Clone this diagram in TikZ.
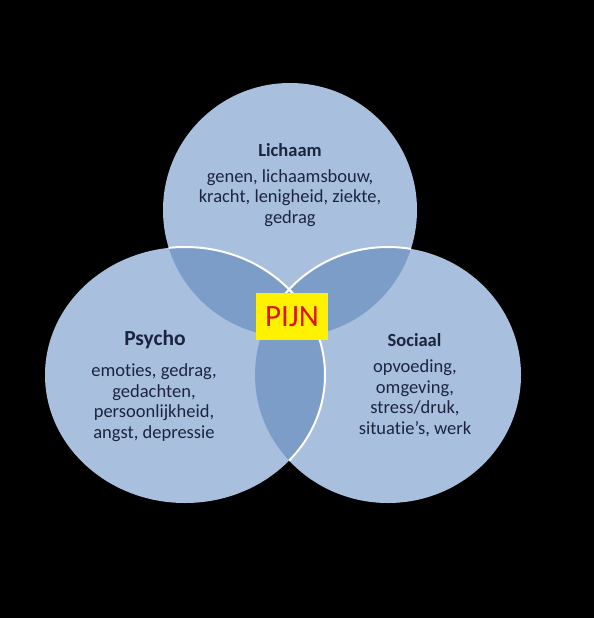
\documentclass[tikz,border=0pt]{standalone}
\usepackage{fontspec}
\setmainfont{Carlito}[Ligatures=NoCommon]
\definecolor{lightblue}{RGB}{168,192,222}
\definecolor{darkblue}{RGB}{124,157,200}
\definecolor{navy}{RGB}{28,36,62}
\definecolor{pijnred}{RGB}{222,20,20}
\tikzset{
  titletext/.style={text=navy,font=\fontsize{18.5}{20}\selectfont\bfseries,align=center,inner sep=0pt},
  bodytext/.style={text=navy,font=\fontsize{18.5}{20.5}\selectfont,align=center,inner sep=0pt},
  whitearc/.style={draw=white,line width=2pt},
}
\begin{document}
\begin{tikzpicture}[x=1pt,y=-1pt]
\fill[black] (0,0) rectangle (594,618);
\useasboundingbox (0,0) rectangle (594,618);
% base fills
\fill[lightblue] (290,210) circle [radius=127pt];
\fill[lightblue] (185,375) ellipse [x radius=140pt, y radius=128pt];
\fill[lightblue] (388,375) ellipse [x radius=133pt, y radius=128pt];
% intersections
\begin{scope}
  \clip (290,210) circle [radius=127pt];
  \fill[darkblue] (185,375) ellipse [x radius=140pt, y radius=128pt];
  \fill[darkblue] (388,375) ellipse [x radius=133pt, y radius=128pt];
\end{scope}
\begin{scope}
  \clip (185,375) ellipse [x radius=140pt, y radius=128pt];
  \fill[darkblue] (388,375) ellipse [x radius=133pt, y radius=128pt];
\end{scope}
% white arcs
\begin{scope}
  \clip (290,210) circle [radius=127pt];
  \draw[whitearc] (185,375) ellipse [x radius=140pt, y radius=128pt];
  \draw[whitearc] (388,375) ellipse [x radius=133pt, y radius=128pt];
\end{scope}
\begin{scope}
  \clip (388,375) ellipse [x radius=133pt, y radius=128pt];
  \draw[whitearc] (185,375) ellipse [x radius=140pt, y radius=128pt];
\end{scope}
% texts
\node[titletext] (lichaam) at (290,150) {Lichaam};
\node[bodytext] (lichaamtxt) at (290,198) {genen, lichaamsbouw,\\kracht, lenigheid, ziekte,\\gedrag};
\node[titletext,font=\fontsize{21.5}{23}\selectfont\bfseries] (psycho) at (155,340) {Psycho};
\node[bodytext] (psychotxt) at (154,402.5) {emoties, gedrag,\\gedachten,\\persoonlijkheid,\\angst, depressie};
\node[titletext] (sociaal) at (414.5,340) {Sociaal};
\node[bodytext] (sociaaltxt) at (415,398.5) {opvoeding,\\omgeving,\\stress/druk,\\situatie’s, werk};
\node[fill=yellow,text=pijnred,font=\fontsize{31}{33}\selectfont,minimum width=72pt,minimum height=47pt,inner sep=0pt] (pijn) at (292,316.5) {PIJN};
\end{tikzpicture}
\end{document}
